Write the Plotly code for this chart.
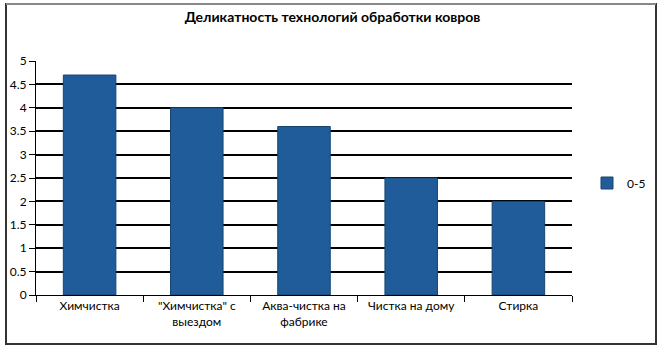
import plotly.graph_objects as go

categories = ["Химчистка", "\"Химчистка\" с<br>выездом", "Аква-чистка на<br>фабрике", "Чистка на дому", "Стирка"]
values = [4.7, 4.0, 3.6, 2.5, 2.0]
series_name = "0-5"
y_ticks = [0, 0.5, 1, 1.5, 2, 2.5, 3, 3.5, 4, 4.5, 5]
y_tick_labels = ["0", "0.5", "1", "1.5", "2", "2.5", "3", "3.5", "4", "4.5", "5"]

W, H = 665, 352
L, R, T, B = 36, 93, 61, 57
pw, ph = W - L - R, H - T - B

def px(x):
    return (x - L) / pw

def py(y):
    return (H - B - y) / ph

fig = go.Figure()
fig.add_trace(go.Bar(
    x=categories, y=values, name=series_name,
    marker=dict(color="#1F5C99", line=dict(color="#17446F", width=1)),
    width=0.49,
))

font_family = "Lato, 'Open Sans', sans-serif"
fig.update_layout(
    width=W, height=H,
    margin=dict(l=L, r=R, t=T, b=B, autoexpand=False),
    paper_bgcolor="white", plot_bgcolor="white",
    font=dict(family=font_family, size=12, color="black"),
    title=dict(text="<b>Деликатность технологий обработки ковров</b>",
               x=0.5, xanchor="center", y=1 - 17 / H, yanchor="middle",
               font=dict(size=14, color="black")),
    showlegend=True,
    legend=dict(xref="container", yref="container",
                x=587 / W, y=1 - 183 / H, xanchor="left", yanchor="middle",
                font=dict(size=12), bgcolor="rgba(0,0,0,0)",
                itemwidth=30, traceorder="normal"),
    bargap=0.51,
)
fig.update_xaxes(
    type="category", showline=True, linecolor="black", linewidth=1,
    ticks="outside", tickson="boundaries", ticklen=6, tickcolor="black",
    showgrid=False, tickfont=dict(size=12), mirror=False,
)
fig.update_yaxes(
    range=[0, 5], tickvals=y_ticks, ticktext=y_tick_labels,
    showline=True, linecolor="black", linewidth=1,
    ticks="outside", ticklen=6, tickcolor="black",
    showgrid=True, gridcolor="black", gridwidth=2,
    zeroline=False, tickfont=dict(size=12),
)

# chart frame
fig.add_shape(type="rect", xref="paper", yref="paper",
              x0=px(6), x1=px(656), y0=py(344), y1=py(4),
              line=dict(color="#333333", width=2), fillcolor="rgba(0,0,0,0)", layer="below")
fig.add_shape(type="line", xref="paper", yref="paper",
              x0=px(6), x1=px(656), y0=py(4), y1=py(4),
              line=dict(color="#888888", width=2))

fig.write_html("out.html")
